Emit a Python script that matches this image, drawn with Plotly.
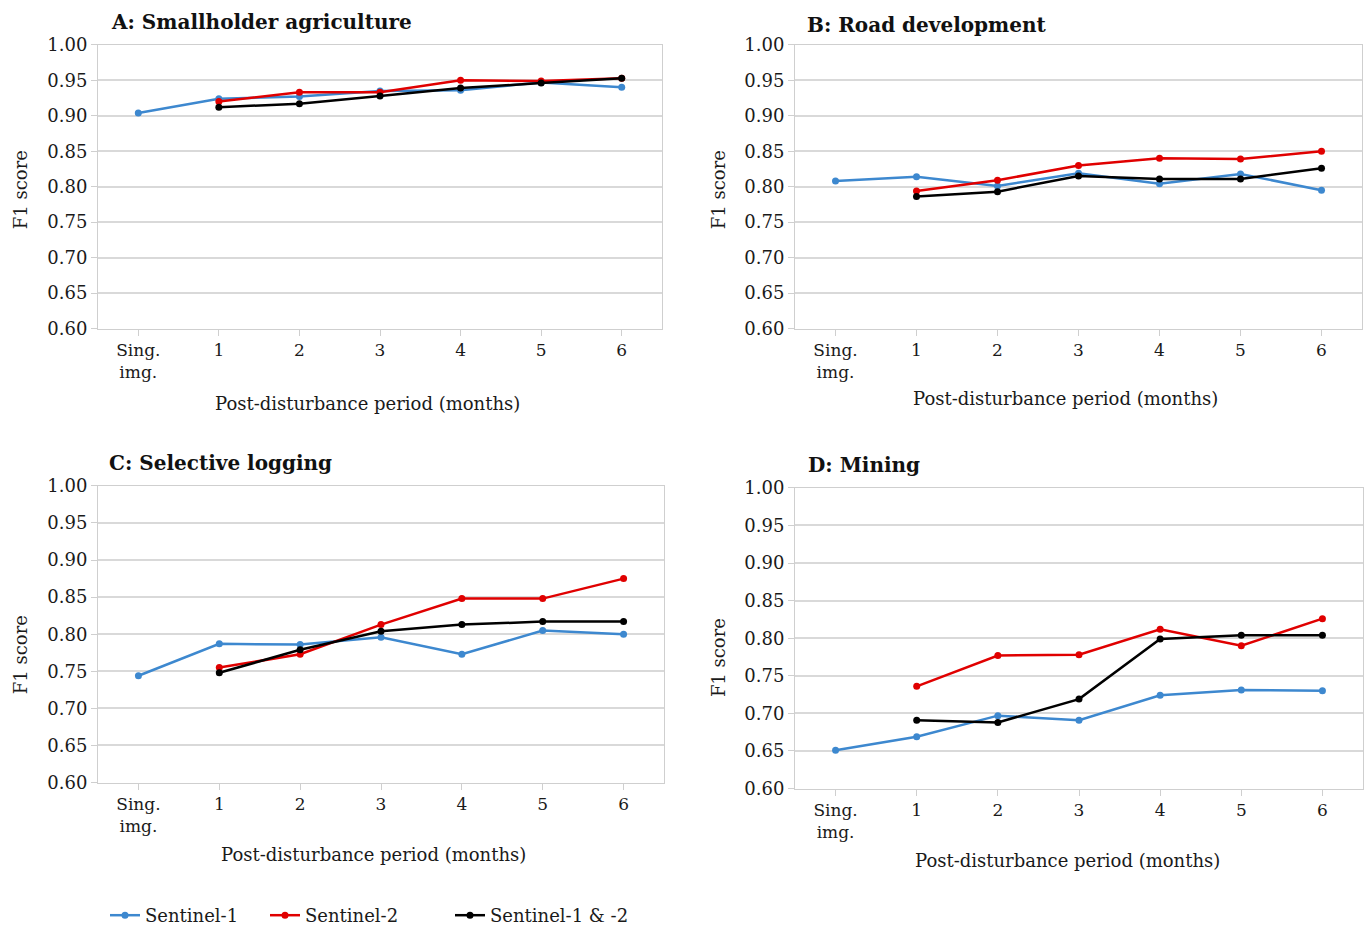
import plotly.graph_objects as go

categories = ["Sing.<br>img.", "1", "2", "3", "4", "5", "6"]
series_names = ["Sentinel-1", "Sentinel-2", "Sentinel-1 & -2"]
series_colors = ["#3d88cf", "#e00000", "#000000"]

panel_titles = ["A: Smallholder agriculture", "B: Road development",
                "C: Selective logging", "D: Mining"]
x_title = "Post-disturbance period (months)"
y_title = "F1 score"

a_s1 = [0.904, 0.924, 0.927, 0.935, 0.936, 0.947, 0.940]
a_s2 = [None, 0.920, 0.933, 0.933, 0.950, 0.949, 0.953]
a_s12 = [None, 0.912, 0.917, 0.928, 0.939, 0.946, 0.953]

b_s1 = [0.808, 0.814, 0.801, 0.819, 0.804, 0.818, 0.795]
b_s2 = [None, 0.794, 0.809, 0.830, 0.840, 0.839, 0.850]
b_s12 = [None, 0.786, 0.793, 0.815, 0.811, 0.811, 0.826]

c_s1 = [0.744, 0.787, 0.786, 0.796, 0.773, 0.805, 0.800]
c_s2 = [None, 0.755, 0.773, 0.813, 0.848, 0.848, 0.875]
c_s12 = [None, 0.748, 0.779, 0.804, 0.813, 0.817, 0.817]

d_s1 = [0.651, 0.669, 0.697, 0.691, 0.724, 0.731, 0.730]
d_s2 = [None, 0.736, 0.777, 0.778, 0.812, 0.790, 0.826]
d_s12 = [None, 0.691, 0.688, 0.719, 0.799, 0.804, 0.804]

panels = [(a_s1, a_s2, a_s12), (b_s1, b_s2, b_s12), (c_s1, c_s2, c_s12), (d_s1, d_s2, d_s12)]

W, H = 1370, 934
YS = 1.0086  # small vertical compensation observed in rendering


def px(x):
    return x / W


def py(y):
    return 1 - min(y * YS, H) / H


# plot area boxes in window pixels: (left, right, top, bottom)
boxes = [(98, 662, 45, 330), (795, 1362, 45, 330), (98, 664, 488, 786), (795, 1363, 490, 792)]
title_pos = [(109, 22), (805, 25), (107, 465), (806, 467)]
xtitle_pos = [(367, 405), (1065, 400), (374, 858), (1067, 864)]
ytitle_pos = [(20, 191), (718, 191), (20, 658), (718, 661)]
legend_x = [105, 265, 450]
legend_y = 920

FONT = "DejaVu Serif"
TXT = "#1a1a1a"
fig = go.Figure()
legend_ids = ["legend", "legend2", "legend3"]

for i, (vals, box) in enumerate(zip(panels, boxes)):
    ax = "" if i == 0 else str(i + 1)
    for j, v in enumerate(vals):
        fig.add_trace(go.Scatter(
            x=categories, y=v, mode="lines+markers", name=series_names[j],
            line=dict(color=series_colors[j], width=2.5),
            marker=dict(color=series_colors[j], size=7),
            xaxis="x" + ax, yaxis="y" + ax, showlegend=(i == 0),
            legend=legend_ids[j], connectgaps=False))
    l, r, t, b = box
    fig.layout["xaxis" + ax] = dict(
        domain=[px(l), min(px(r), 1.0)], anchor="y" + ax, type="category", automargin=False,
        range=[-0.5, 6.5], showline=True, linecolor="#cfcfcf", linewidth=1,
        mirror=True, showgrid=False, ticks="outside", ticklen=6, tickcolor="#cfcfcf",
        tickfont=dict(family=FONT, size=17, color=TXT))
    fig.layout["yaxis" + ax] = dict(
        domain=[py(b), py(t)], anchor="x" + ax, automargin=False,
        range=[0.6, 1.0], dtick=0.05, tickformat=".2f",
        showline=True, linecolor="#cfcfcf", linewidth=1, mirror=True,
        showgrid=True, gridcolor="#d9d9d9", gridwidth=1.5, zeroline=False,
        ticks="outside", ticklen=6, tickcolor="#cfcfcf",
        tickfont=dict(family=FONT, size=18, color=TXT))
    tx, ty = title_pos[i]
    fig.add_annotation(x=px(tx), y=py(ty), xref="paper", yref="paper",
                       xanchor="left", yanchor="middle", showarrow=False,
                       text="<b>" + panel_titles[i] + "</b>",
                       font=dict(family=FONT, size=20, color="#111"))
    xx, xy = xtitle_pos[i]
    fig.add_annotation(x=px(xx), y=py(xy), xref="paper", yref="paper",
                       xanchor="center", yanchor="middle", showarrow=False,
                       text=x_title, font=dict(family=FONT, size=18, color=TXT))
    yx, yy = ytitle_pos[i]
    fig.add_annotation(x=px(yx), y=py(yy), xref="paper", yref="paper",
                       xanchor="center", yanchor="middle", showarrow=False, textangle=-90,
                       text=y_title, font=dict(family=FONT, size=18, color=TXT))

legend_common = dict(orientation="h", yanchor="middle", xanchor="left", y=py(legend_y),
                     font=dict(family=FONT, size=18, color=TXT), itemwidth=30,
                     bgcolor="rgba(0,0,0,0)")
fig.update_layout(
    width=W, height=H, margin=dict(l=0, r=0, t=0, b=0),
    paper_bgcolor="white", plot_bgcolor="white", showlegend=True,
    legend=dict(x=px(legend_x[0]), **legend_common),
    legend2=dict(x=px(legend_x[1]), **legend_common),
    legend3=dict(x=px(legend_x[2]), **legend_common))

fig.write_html("out.html", config={"displayModeBar": False},
               post_script="document.body.style.margin='0';document.body.style.overflow='hidden';")
